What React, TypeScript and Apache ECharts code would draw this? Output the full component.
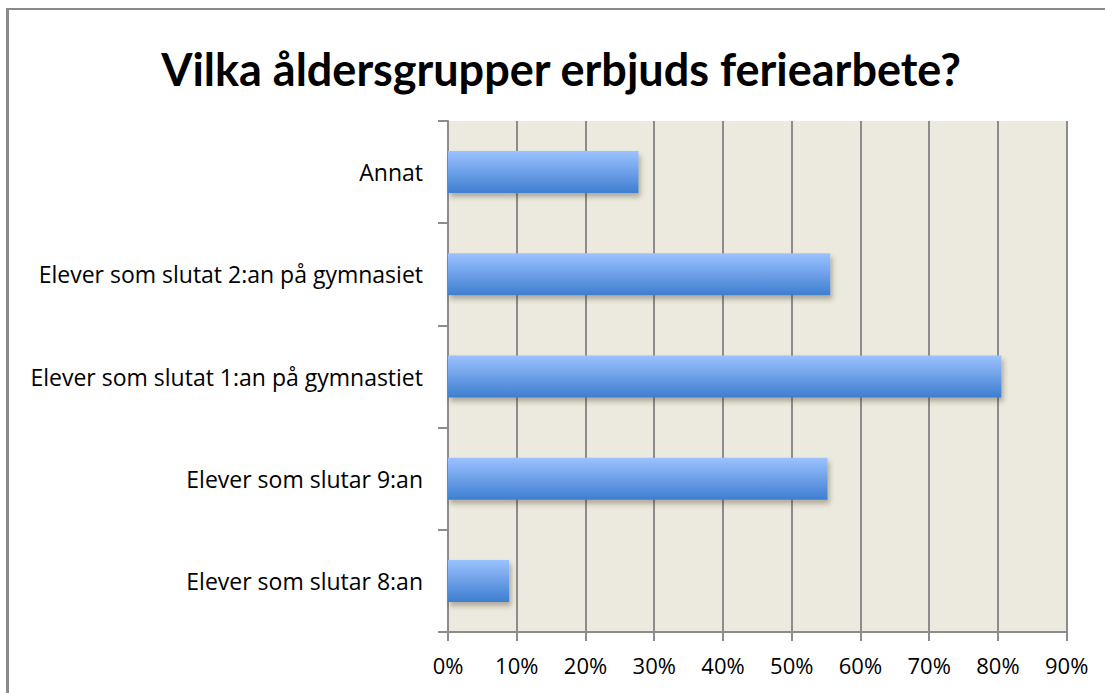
import React, { useEffect, useRef } from "react";
import * as echarts from "echarts";

const title = "Vilka åldersgrupper erbjuds feriearbete?";
const categories = [
  "Elever som slutar 8:an",
  "Elever som slutar 9:an",
  "Elever som slutat 1:an på gymnastiet",
  "Elever som slutat 2:an på gymnasiet",
  "Annat",
];
const values = [8.9, 55.2, 80.5, 55.6, 27.7];

export default function App() {
  const ref = useRef<HTMLDivElement>(null);
  useEffect(() => {
    const chart = echarts.init(ref.current!, undefined, { renderer: "svg" });
    chart.setOption({
      animation: false,
      backgroundColor: "#ffffff",
      title: {
        text: title,
        left: 556,
        top: 41,
        textAlign: "center",
        textStyle: {
          fontFamily: "Lato",
          fontWeight: "bold",
          fontSize: 45,
          color: "#000000",
        },
      },
      graphic: [
        {
          type: "line",
          shape: { x1: 7, y1: 9, x2: 1200, y2: 9 },
          style: { stroke: "#8a8a8a", lineWidth: 2 },
          silent: true,
        },
        {
          type: "line",
          shape: { x1: 7.5, y1: 8, x2: 7.5, y2: 900 },
          style: { stroke: "#8a8a8a", lineWidth: 3 },
          silent: true,
        },
      ],
      grid: {
        left: 448,
        top: 121,
        width: 618.7,
        height: 511,
        show: true,
        backgroundColor: "#ECE9DF",
        borderWidth: 0,
      },
      xAxis: {
        type: "value",
        min: 0,
        max: 90,
        interval: 10,
        axisLine: { show: true, lineStyle: { color: "#8c8c8c", width: 2 } },
        axisTick: { show: true, length: 9, lineStyle: { color: "#8c8c8c", width: 2 } },
        splitLine: { show: true, lineStyle: { color: "#8c8c8c", width: 2 } },
        axisLabel: {
          formatter: "{value}%",
          color: "#000000",
          fontFamily: "Open Sans",
          fontSize: 22,
          margin: 22,
        },
      },
      yAxis: {
        type: "category",
        data: categories,
        axisLine: { show: true, lineStyle: { color: "#8c8c8c", width: 2 } },
        axisTick: { show: true, length: 10, lineStyle: { color: "#8c8c8c", width: 2 } },
        axisLabel: {
          color: "#000000",
          fontFamily: "Open Sans",
          fontSize: 23,
          margin: 25,
        },
      },
      series: [
        {
          type: "bar",
          data: values,
          barWidth: 42,
          itemStyle: {
            color: new echarts.graphic.LinearGradient(0, 0, 0, 1, [
              { offset: 0, color: "#9CC2FF" },
              { offset: 1, color: "#3E7ED0" },
            ]),
            shadowColor: "rgba(60,50,30,0.35)",
            shadowBlur: 5,
            shadowOffsetX: 2,
            shadowOffsetY: 4,
          },
        },
      ],
    });
    return () => chart.dispose();
  }, []);
  return (
    <div
      ref={ref}
      style={{ position: "fixed", left: 0, top: 0, width: 1105, height: 693 }}
    />
  );
}
